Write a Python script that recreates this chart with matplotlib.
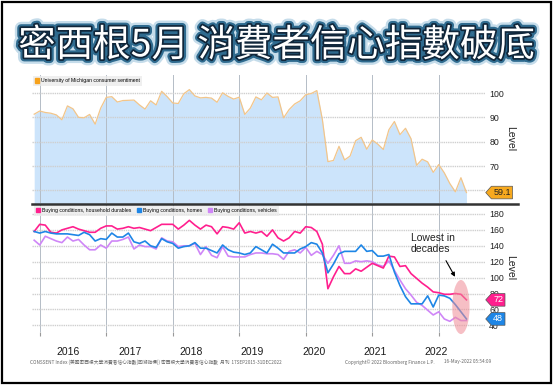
import numpy as np
import pandas as pd
import matplotlib
matplotlib.use("Agg")
import matplotlib.pyplot as plt
import matplotlib.patheffects as pe
from matplotlib.patches import Patch, Ellipse, Rectangle
from matplotlib.path import Path
import matplotlib.transforms as mtransforms

plt.rcParams['font.family'] = ['Liberation Sans', 'Noto Sans CJK TC', 'DejaVu Sans']

# ---- data (monthly, Nov 2015 - May 2022) ----
sentiment = [91.3, 92.6, 92.0, 91.7, 91.0, 89.0, 94.7, 93.5, 90.0, 89.8, 91.2, 87.2, 93.8, 98.2,
             98.5, 96.3, 96.9, 97.0, 97.1, 95.1, 93.4, 96.8, 95.1, 100.7, 98.5, 95.9,
             95.7, 99.7, 101.4, 98.8, 98.0, 98.2, 97.9, 96.2, 100.1, 98.6, 97.5, 98.3,
             91.2, 93.8, 98.4, 97.2, 100.0, 98.2, 98.4, 89.8, 93.2, 95.5, 96.8, 99.3,
             99.8, 101.0, 89.1, 71.8, 72.3, 78.1, 72.5, 74.1, 80.4, 81.8, 76.9, 80.7,
             79.0, 76.8, 84.9, 88.3, 82.9, 85.5, 81.2, 70.3, 72.8, 71.7, 67.4, 70.6,
             67.2, 62.8, 59.4, 65.2, 59.1]

durables = [158, 167, 166, 157, 156, 160, 162, 164, 161, 159, 157, 157, 162, 165,
            165, 161, 162, 164, 162, 163, 161, 159, 163, 167, 167, 167,
            161, 166, 172, 166, 161, 166, 164, 155, 164, 163, 161, 169,
            156, 158, 156, 158, 152, 160, 150, 146, 150, 158, 156, 164,
            163, 158, 142, 86, 101, 114, 105, 105, 111, 108, 113, 118,
            115, 112, 127, 126, 114, 115, 105, 99, 93, 88, 82, 81,
            79, 79, 80, 79, 72]

homes = [158, 156, 158, 156, 155, 155, 155, 154, 153, 157, 154, 146, 149, 148,
         156, 151, 151, 156, 145, 143, 146, 140, 138, 149, 145, 143,
         137, 139, 140, 144, 137, 137, 134, 131, 141, 135, 132, 131,
         129, 131, 139, 135, 131, 142, 137, 131, 131, 131, 136, 139,
         144, 142, 131, 106, 117, 130, 133, 133, 133, 141, 133, 134,
         127, 127, 129, 107, 90, 76, 67, 67, 67, 77, 63, 78,
         77, 74, 66, 57, 48]

vehicles = [147, 141, 152, 149, 146, 144, 151, 146, 148, 141, 135, 135, 141, 137,
            146, 146, 148, 151, 136, 141, 139, 139, 136, 150, 146, 145,
            139, 140, 140, 143, 129, 139, 128, 125, 139, 127, 126, 126,
            126, 129, 131, 131, 130, 130, 129, 123, 133, 135, 131, 138,
            128, 133, 129, 118, 128, 140, 118, 118, 121, 120, 121, 120,
            116, 114, 121, 109, 97, 86, 78, 69, 65, 59, 53, 57,
            48, 45, 50, 46, 46]

years = [2016, 2017, 2018, 2019, 2020, 2021, 2022]

dates = pd.date_range('2015-11-30', periods=len(sentiment), freq='ME')
x = np.array(dates.year + dates.month / 12.0)

c_sent_fill = '#cce4fb'
c_sent_line = '#f2c58a'
c_dur = '#ff1f8e'
c_home = '#1e86e6'
c_veh = '#cf86f7'


def tag_box(x0, y0, width, height, mutation_size):
    pad = 0.2 * mutation_size
    x0 -= pad
    y0 -= pad
    width += 2 * pad
    height += 2 * pad
    tip = height * 0.45
    verts = [(x0, y0), (x0 + width, y0), (x0 + width, y0 + height),
             (x0, y0 + height), (x0 - tip, y0 + height / 2), (x0, y0)]
    return Path(verts, closed=True)


def value_tag(ax, val, txt, fc, tc):
    trans = mtransforms.blended_transform_factory(ax.transAxes, ax.transData)
    ax.text(1.018, val, txt, transform=trans, ha='left', va='center', fontsize=6.5,
            color=tc, zorder=10, clip_on=False,
            bbox=dict(boxstyle=tag_box, fc=fc, ec='#555555', lw=0.5))


def style_axis(ax, ylo, yhi, yticks):
    ax.set_xlim(2015.884, 2022.696)
    ax.set_ylim(ylo, yhi)
    for s in ax.spines.values():
        s.set_visible(False)
    ax.set_yticks(yticks)
    ax.yaxis.tick_right()
    ax.tick_params(axis='y', length=0, labelsize=6.3, pad=3, colors='#222222')
    ax.set_xticks(years)
    ax.tick_params(axis='x', length=0, labelbottom=False)
    ax.set_axisbelow('line')
    ax.grid(axis='y', color='#cfcfcf', lw=1.0, ls=(0, (1, 0.6)))
    ax.grid(axis='x', color='#b4bcc6', lw=0.7)
    ax.yaxis.set_label_position('right')
    ax.set_ylabel('Level', rotation=270, fontsize=7.5, labelpad=8, color='#222222')


fig = plt.figure(figsize=(5.53, 3.85), dpi=100)

# top panel
ax1 = fig.add_axes([0.0579, 0.4727, 0.8192, 0.3325])
ax1.fill_between(x, sentiment, 0, color=c_sent_fill, lw=0, zorder=1)
ax1.plot(x, sentiment, color=c_sent_line, lw=0.9, zorder=3)
style_axis(ax1, 54.8, 107.4, [60, 70, 80, 90, 100])
ax1.set_yticklabels(['', '70', '80', '90', '100'])
leg1 = ax1.legend(handles=[Patch(color='#f7a21b', label='University of Michigan consumer sentiment')],
                  loc='upper left', bbox_to_anchor=(0.0, 1.0), fontsize=3.7, frameon=True,
                  handlelength=0.7, handleheight=0.9, handletextpad=0.4, borderpad=0.5,
                  borderaxespad=0.15, fancybox=False)
leg1.get_frame().set_facecolor('#ebebeb')
leg1.get_frame().set_edgecolor('none')
value_tag(ax1, sentiment[-1], '%.1f' % sentiment[-1], '#f7a91e', '#222222')

# bottom panel
ax2 = fig.add_axes([0.0579, 0.1377, 0.8192, 0.3325])
ax2.plot(x, durables, color=c_dur, lw=1.2, zorder=3)
ax2.plot(x, homes, color=c_home, lw=1.2, zorder=3)
ax2.plot(x, vehicles, color=c_veh, lw=1.2, zorder=2.8)
style_axis(ax2, 31.6, 192.6, [40, 60, 80, 100, 120, 140, 160, 180])
ax2.tick_params(axis='x', which='major', length=3, direction='out', color='#999999')
label_pos = [y + 0.43 - 0.078 * i for i, y in enumerate(years)]
ax2.set_xticks(label_pos, minor=True)
ax2.set_xticklabels([str(y) for y in years], minor=True)
ax2.tick_params(axis='x', which='minor', length=0, labelsize=7.5, pad=10.5, colors='#1a1a1a')
leg2 = ax2.legend(handles=[Patch(color=c_dur, label='Buying conditions, household durables'),
                           Patch(color=c_home, label='Buying conditions, homes'),
                           Patch(color=c_veh, label='Buying conditions, vehicles')],
                  loc='upper left', bbox_to_anchor=(0.0, 1.0), ncol=3, fontsize=3.7,
                  frameon=True, handlelength=0.7, handleheight=0.9, handletextpad=0.4,
                  columnspacing=1.2, borderpad=0.5, borderaxespad=0.3, fancybox=False)
leg2.get_frame().set_facecolor('#ebebeb')
leg2.get_frame().set_edgecolor('none')

# highlight of latest months
last = np.array([durables[-3:], homes[-3:], vehicles[-3:]])
cy = (last.max() + last.min()) / 2
ax2.add_patch(Ellipse((x[-3:].mean(), cy), 0.26, 2 * (last.max() - last.min()),
                      fc='#f08c96', ec='none', alpha=0.55, zorder=4, clip_on=False))
ax2.annotate('Lowest in\ndecades', xy=(2022.245, 101), xytext=(2021.58, 156),
             textcoords='data', ha='left', va='top', fontsize=7.5, color='#222222',
             linespacing=1.15,
             arrowprops=dict(arrowstyle='-|>', color='black', lw=0.8, mutation_scale=6,
                             relpos=(0.72, 0.0), shrinkA=3, shrinkB=0))

value_tag(ax2, durables[-1], str(durables[-1]), c_dur, 'white')
value_tag(ax2, homes[-1], str(homes[-1]), c_home, 'white')

# separator between panels
fig.add_artist(plt.Line2D([32 / 553, 518 / 553], [1 - 203.5 / 385] * 2,
                          transform=fig.transFigure, color='#333333', lw=1.8))

# title
fig.text(0.5, 0.881, '密西根5月 消費者信心指數破底', ha='center', va='center',
         fontsize=27, color='white', family=['Noto Sans CJK TC', 'DejaVu Sans'],
         path_effects=[pe.Stroke(linewidth=9, foreground='#8dbad6', alpha=0.5),
                       pe.Stroke(linewidth=5.5, foreground='#2f6b8f'),
                       pe.Stroke(linewidth=2.5, foreground='#10263a'),
                       pe.Normal()])

# footnotes
fn = dict(fontsize=3.4, color='#666666', family=['Noto Sans CJK TC', 'DejaVu Sans'], va='center')
fig.text(30 / 553, 1 - 362 / 385,
         'CONSSENT Index (美國密西根大學消費者信心指數(回溯指標)) 密西根大學消費者信心指數  月刊  17SEP2015-31DEC2022',
         ha='left', **fn)
fig.text(345 / 553, 1 - 362 / 385, 'Copyright© 2022 Bloomberg Finance L.P.', ha='left', **fn)
fig.text(491 / 553, 1 - 362 / 385, '16-May-2022 05:54:09', ha='right', **fn)

# outer frame
fig.add_artist(Rectangle((0.003, 0.004), 0.993, 0.991, transform=fig.transFigure,
                         fill=False, ec='black', lw=1.6))

fig.savefig('out.png', dpi=100)
